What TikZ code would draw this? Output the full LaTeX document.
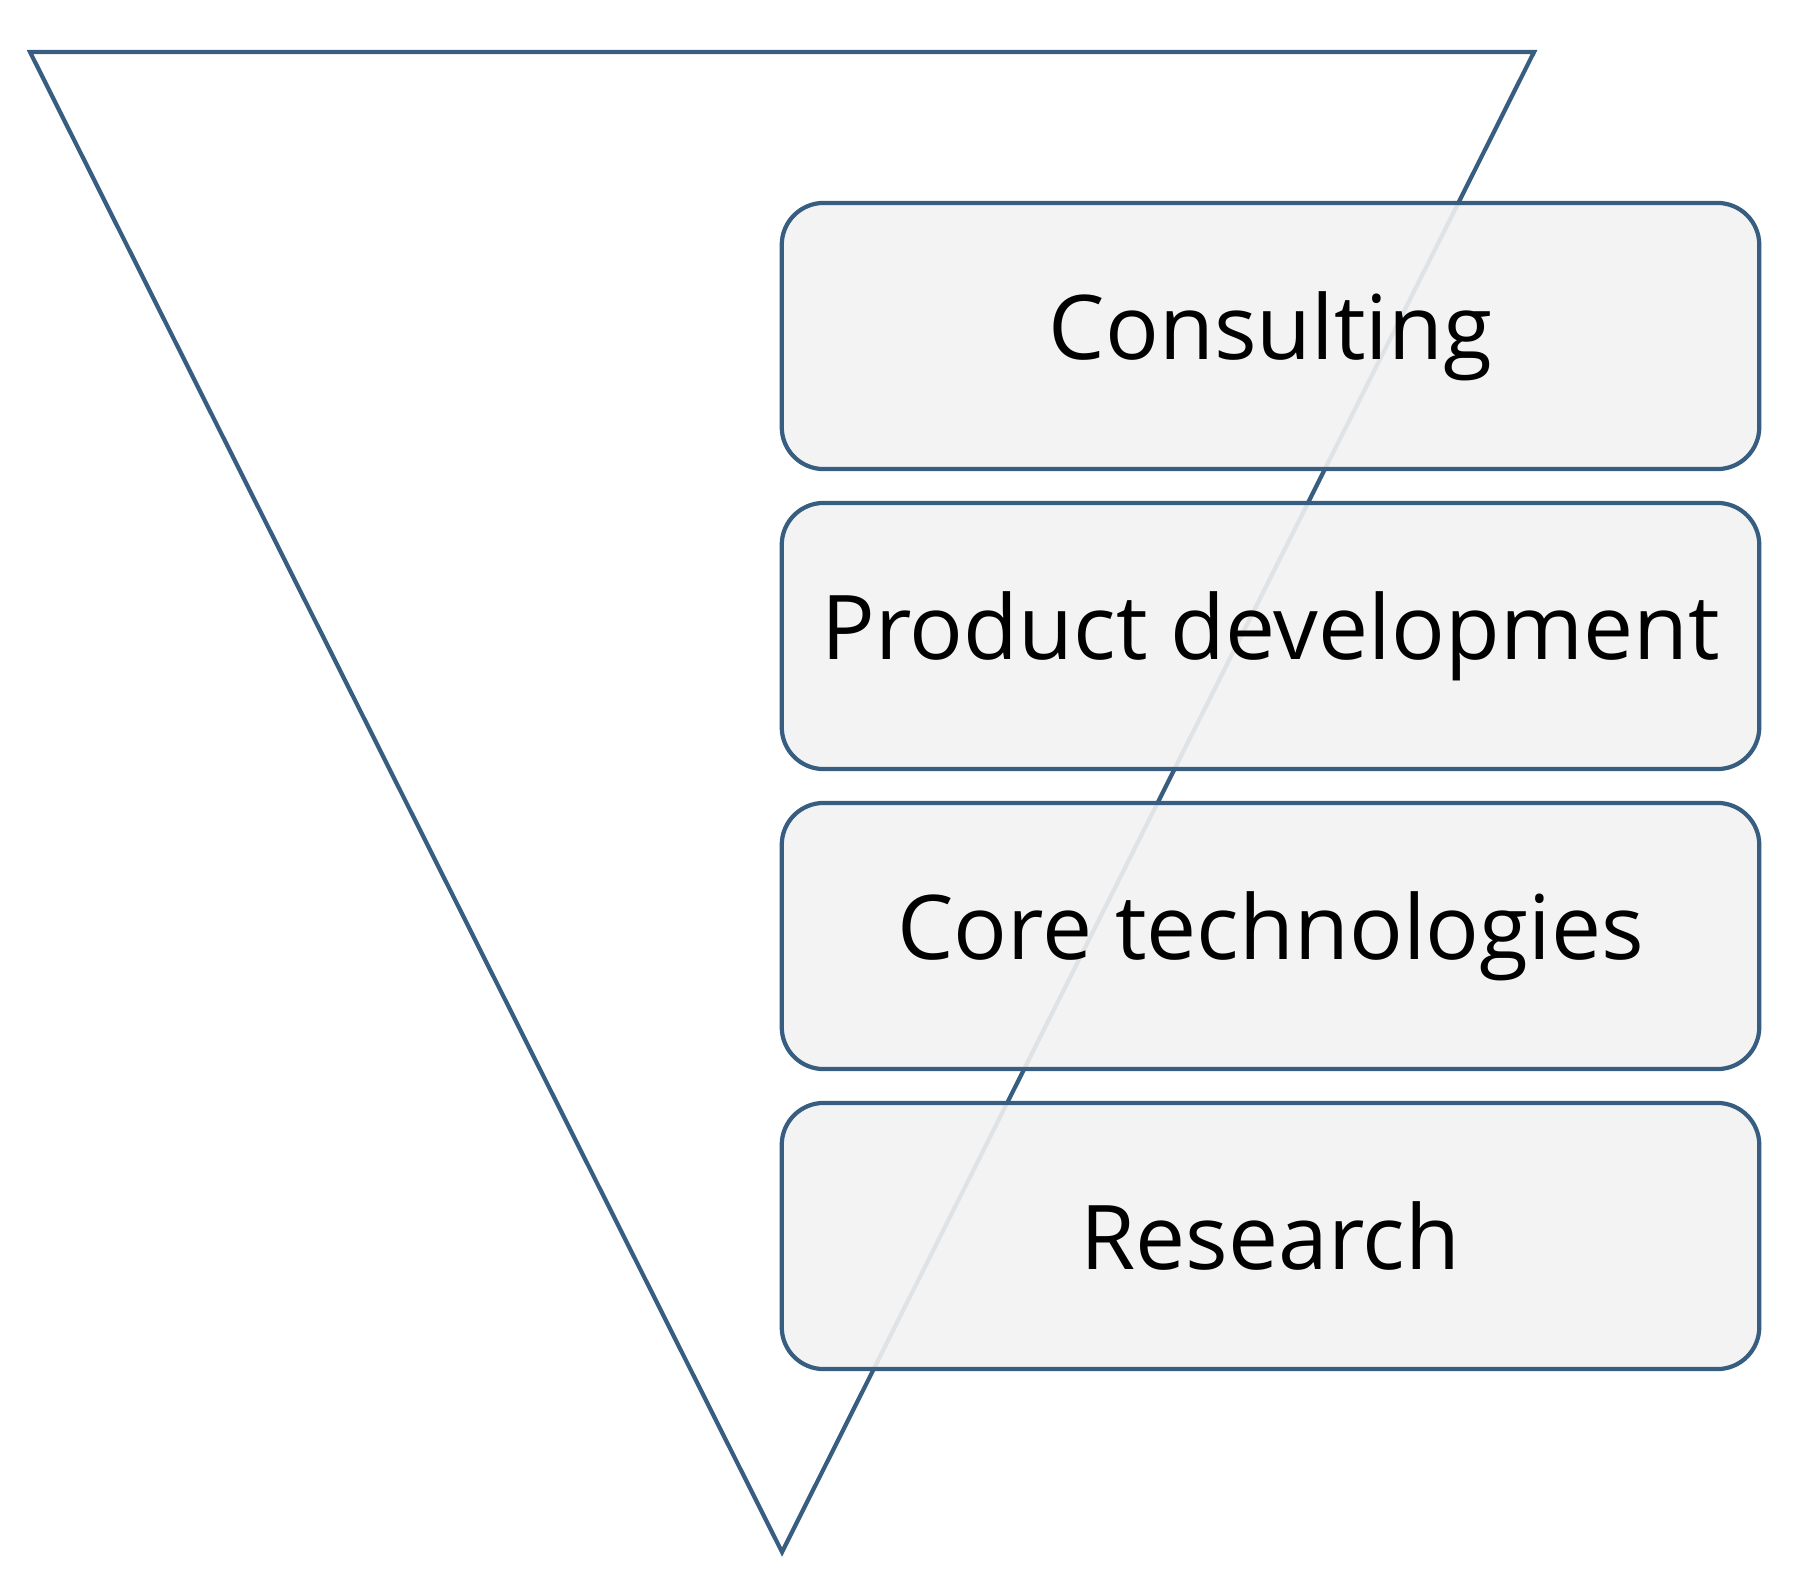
\documentclass[tikz,border=0pt]{standalone}
\usepackage{fontspec}
\setmainfont{Open Sans}
\usetikzlibrary{calc, math}
\definecolor{edgeblue}{RGB}{55,94,128}
\definecolor{boxgray}{RGB}{242,242,242}

\tikzset{layerbox/.style={draw=edgeblue, fill=boxgray, fill opacity=0.9, text opacity=1,
    line width=1.2pt, rounded corners=0.42cm, minimum width=9.77cm, minimum height=2.66cm,
    inner sep=0pt, font=\fontsize{25.4}{30}\selectfont}}

\begin{document}
\begin{tikzpicture}[x=0.01cm, y=-0.01cm]

\tikzmath{
			\xl = 782; \xr = 1759;
			\xm = (\xl + \xr) / 2;
			\yone = 336; \dy = 300;
         }

\useasboundingbox (0,0) rectangle (1800,1588);

\coordinate (tl) at (30,52);
\coordinate (tr) at (1534,52);
\coordinate (tip) at (782,1552);

\draw[edgeblue, line width=1.2pt] (tl) -- (tr) -- (tip) -- cycle;

\node[layerbox] (consulting) at (\xm, \yone) {Consulting};
\node[layerbox] (product) at (\xm, \yone + \dy) {Product development};
\node[layerbox] (core) at (\xm, \yone + 2*\dy) {Core technologies};
\node[layerbox] (research) at (\xm, \yone + 3*\dy) {Research};

\end{tikzpicture}
\end{document}
